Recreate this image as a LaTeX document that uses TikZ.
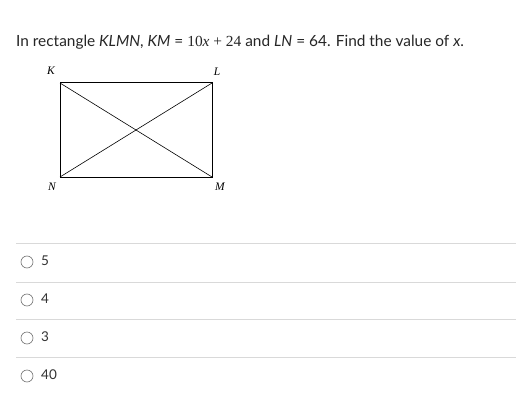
\documentclass[tikz,border=0pt]{standalone}
\usepackage{fontspec}
\setmainfont{Lato}
\newfontfamily\serifx{Liberation Serif}
\begin{document}
\begin{tikzpicture}[x=1pt,y=-1pt,
  lab/.style={font=\serifx\itshape\fontsize{11.5}{13}\selectfont},
  opt/.style={anchor=west,font=\fontsize{13.5}{16}\selectfont,text=black!80,inner sep=0pt},
  radio/.style={draw=black!55,line width=0.6pt,circle,minimum size=12pt,inner sep=0pt},
  sep/.style={draw=black!15,line width=0.8pt}]
\useasboundingbox[fill=white] (0,0) rectangle (516,409);
\node[anchor=base west,inner sep=0pt,font=\fontsize{15.4}{18}\selectfont,text=black!85] (title) at (16,47)
 {In rectangle \textit{KLMN}, \textit{KM} = {\serifx 10\textit{x} + 24} and \textit{LN} = 64. Find the value of \textit{x}.};
\coordinate (K) at (60,83);
\coordinate (L) at (212,83);
\coordinate (M) at (212,177);
\coordinate (N) at (60,177);
\draw[line width=1pt] (K) -- (L) -- (M) -- (N) -- cycle;
\draw[line width=0.6pt] (K) -- (M) (L) -- (N);
\node[lab] (kl) at (51,71) {K};
\node[lab] (ll) at (217,72) {L};
\node[lab] (nl) at (52,187) {N};
\node[lab] (ml) at (220,187) {M};
\foreach \y in {243,282,319,357} \draw[sep] (16,\y) -- (516,\y);
\node[radio] (r1) at (27,262) {};
\node[radio] (r2) at (27,300) {};
\node[radio] (r3) at (27,338) {};
\node[radio] (r4) at (27,376) {};
\node[opt] (o1) at (41,261) {5};
\node[opt] (o2) at (41,299) {4};
\node[opt] (o3) at (41,337) {3};
\node[opt] (o4) at (41,375) {40};
\end{tikzpicture}
\end{document}
